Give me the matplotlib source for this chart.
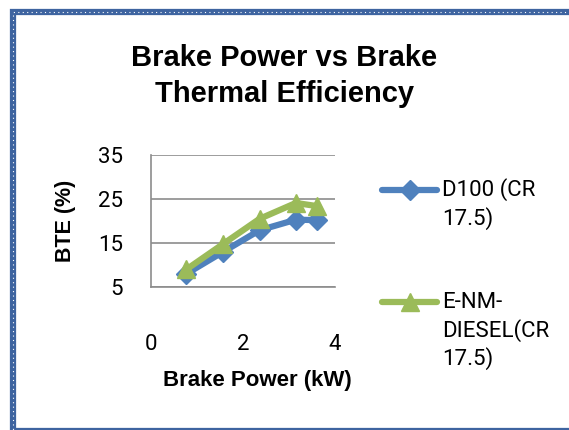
import matplotlib
matplotlib.use("Agg")
import matplotlib.pyplot as plt
from matplotlib.lines import Line2D
from matplotlib.patches import Rectangle

# data
brake_power = [0.77, 1.57, 2.36, 3.15, 3.6]
bte_d100 = [8.0, 13.0, 17.9, 20.3, 20.2]
bte_enm = [9.0, 14.8, 20.5, 24.1, 23.4]
series_labels = ["D100 (CR\n17.5)", "E-NM-\nDIESEL(CR\n17.5)"]
x_ticks = [0, 2, 4]
y_ticks = [5, 15, 25, 35]

BLUE = "#4F81BD"
GREEN = "#9BBB59"
BOLD_FONT = ["Liberation Sans", "DejaVu Sans"]
TEXT_FONT = ["Roboto", "DejaVu Sans"]

plt.rcParams["font.family"] = TEXT_FONT

fig = plt.figure(figsize=(5.69, 4.30), dpi=100)
ax = fig.add_axes([0.2654, 0.3326, 0.3234, 0.3069])

ax.plot(brake_power, bte_d100, color=BLUE, lw=4.5, marker="D", ms=10,
        mec=BLUE, mfc=BLUE, zorder=3)
ax.plot(brake_power, bte_enm, color=GREEN, lw=4.5, marker="^", ms=13,
        mec=GREEN, mfc=GREEN, zorder=4)

ax.set_xlim(0, 4)
ax.set_ylim(5, 35)
ax.set_xticks(x_ticks)
ax.set_yticks(y_ticks)
ax.grid(axis="y", color="#8c8c8c", lw=1.2)
ax.set_axisbelow(True)
for s in ["top", "right"]:
    ax.spines[s].set_visible(False)
for s in ["left", "bottom"]:
    ax.spines[s].set_color("#8c8c8c")
    ax.spines[s].set_linewidth(1.2)
ax.tick_params(length=0, labelsize=16)
ax.tick_params(axis="x", pad=34)
ax.tick_params(axis="y", pad=20)

ax.set_xlabel("Brake Power (kW)", fontsize=16, fontweight="bold",
              family=BOLD_FONT, va="center")
ax.xaxis.set_label_coords(0.58, -0.705)
ax.set_ylabel("BTE (%)", fontsize=15.5, fontweight="bold",
              family=BOLD_FONT, labelpad=16)

fig.text(0.5, 1 - 76 / 430, "Brake Power vs Brake\nThermal Efficiency",
         ha="center", va="center", fontsize=21, fontweight="bold",
         family=BOLD_FONT, linespacing=1.32)

# legend drawn by hand
leg_y = [1 - 190 / 430, 1 - 302 / 430]
colors = [BLUE, GREEN]
markers = ["D", "^"]
sizes = [10, 13]
for lab, yy, c, m, sz in zip(series_labels, leg_y, colors, markers, sizes):
    fig.add_artist(Line2D([382 / 569, 437 / 569], [yy, yy], color=c, lw=4.5,
                          solid_capstyle="round"))
    fig.add_artist(Line2D([409.5 / 569], [yy], marker=m, ms=sz, color=c, lw=0))
    fig.text(442 / 569, yy, lab.split("\n")[0], fontsize=16, va="center",
             ha="left")
    for i, part in enumerate(lab.split("\n")[1:], start=1):
        fig.text(442 / 569, yy - i * 28.5 / 430, part, fontsize=16,
                 va="center", ha="left")

# dotted blue border
border = (13 / 569, -1 / 430, 570 / 569, 1 - 11.5 / 430 + 1 / 430)
fig.add_artist(Rectangle(border[:2], border[2], border[3],
                         transform=fig.transFigure, fill=False,
                         ec="#3E64A0", lw=4.5))
fig.add_artist(Rectangle(border[:2], border[2], border[3],
                         transform=fig.transFigure, fill=False,
                         ec="white", lw=0.8, ls=(0, (1, 3))))

fig.savefig("out.png", dpi=100)
